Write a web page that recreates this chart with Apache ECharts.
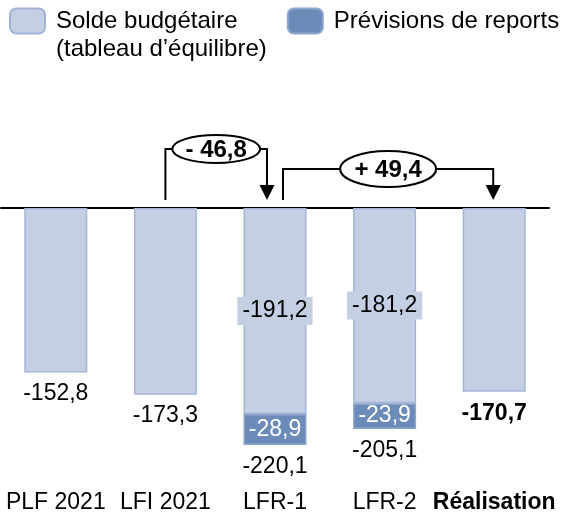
<!DOCTYPE html>
<html lang="fr">
<head>
<meta charset="UTF-8">
<title>Solde budgétaire 2021</title>
<script src="https://cdn.jsdelivr.net/npm/echarts@6/dist/echarts.min.js"></script>
<style>
    html, body { margin: 0; padding: 0; background: #fff; }
    #chart { width: 568px; height: 520px; }
</style>
</head>
<body>
<div id="chart"></div>
<script>
    // données (Md€)
    var categories = ['PLF 2021', 'LFI 2021', 'LFR-1', 'LFR-2', 'Réalisation'];
    var soldeBudgetaire = [-152.8, -173.3, -191.2, -181.2, -170.7];
    var previsionsReports = [null, null, -28.9, -23.9, null];
    var totaux = [-152.8, -173.3, -220.1, -205.1, -170.7];
    // écarts annotés : de la catégorie i vers la catégorie j
    var ecarts = [
        { de: 1, vers: 2, texte: '- 46,8' },
        { de: 2, vers: 4, texte: '+ 49,4' }
    ];
    // mise en forme des annotations (px)
    var ecartsLayout = [
        { dx0: 0, dx1: -8, h: 59, rx: 44, ry: 14 },
        { dx0: 8, dx1: -1, h: 39, rx: 48, ry: 18 }
    ];

    var FONT = 'Liberation Sans, Arial, sans-serif';
    var LIGHT = '#C5CFE3';
    var LIGHT_BORDER = '#A3B5D7';
    var DARK = '#6C8BB9';
    var DARK_BORDER = '#8EA5CC';
    var FS = 23;

    function fr(v) { return String(v).replace('.', ','); }

    var chart = echarts.init(document.getElementById('chart'));

    var option = {
        animation: false,
        textStyle: { fontFamily: FONT },
        grid: { left: 1, right: 19, top: 208, bottom: 32 },
        legend: {
            left: 9,
            top: -21,
            padding: 0,
            itemWidth: 35,
            itemHeight: 25,
            itemGap: 20,
            selectedMode: false,
            data: ['Solde budgétaire', 'Prévisions de reports'],
            formatter: function (name) {
                if (name === 'Solde budgétaire') {
                    return '\nSolde budgétaire\n(tableau d’équilibre)';
                }
                return name;
            },
            textStyle: { fontSize: 24, lineHeight: 28, color: '#000', fontFamily: FONT, padding: [0, 0, 0, 6] }
        },
        xAxis: [{
            type: 'category',
            data: categories,
            position: 'bottom',
            axisLine: { show: false, onZero: false },
            axisTick: { show: false },
            axisLabel: {
                interval: 0,
                margin: 3,
                fontSize: FS,
                color: '#000',
                fontFamily: FONT,
                formatter: function (v) {
                    return v === 'Réalisation' ? '{b|' + v + '}' : v;
                },
                rich: { b: { fontWeight: 'bold', fontSize: FS, color: '#000', fontFamily: FONT } }
            }
        }, {
            type: 'category',
            data: categories,
            position: 'top',
            axisLine: { show: true, onZero: false, lineStyle: { color: '#000', width: 2 } },
            axisTick: { show: false },
            axisLabel: { show: false }
        }],
        yAxis: {
            type: 'value',
            min: -260,
            max: 0,
            show: false
        },
        series: [{
            name: 'Solde budgétaire',
            type: 'bar',
            stack: 'total',
            barWidth: 63,
            itemStyle: { color: LIGHT, borderColor: LIGHT_BORDER, borderWidth: 1.5 },
            label: {
                show: false,
                position: 'inside',
                fontSize: FS,
                color: '#000',
                fontFamily: FONT,
                backgroundColor: LIGHT,
                padding: [3, 5, 2, 5],
                formatter: function (p) { return fr(p.value); }
            },
            data: soldeBudgetaire.map(function (v, i) {
                return { value: v, label: { show: previsionsReports[i] != null } };
            })
        }, {
            name: 'Prévisions de reports',
            type: 'bar',
            stack: 'total',
            barWidth: 63,
            itemStyle: { color: DARK, borderColor: DARK_BORDER, borderWidth: 1.5 },
            label: {
                show: true,
                position: 'inside',
                fontSize: FS,
                color: '#fff',
                fontFamily: FONT,
                formatter: function (p) { return fr(p.value); }
            },
            data: previsionsReports
        }, {
            name: 'Total',
            type: 'scatter',
            symbolSize: 0,
            silent: true,
            itemStyle: { color: '#000', opacity: 1 },
            label: {
                show: true,
                position: 'bottom',
                distance: 10,
                fontSize: FS,
                color: '#000',
                opacity: 1,
                fontFamily: FONT,
                formatter: function (p) { return fr(p.value); }
            },
            data: totaux.map(function (v, i) {
                return i === totaux.length - 1 ? { value: v, label: { fontWeight: 'bold' } } : v;
            })
        }]
    };
    chart.setOption(option);

    // flèches d'écart
    var yZero = chart.convertToPixel({ yAxisIndex: 0 }, 0);
    var elements = [];
    ecarts.forEach(function (e, k) {
        var L = ecartsLayout[k];
        var x0 = chart.convertToPixel({ xAxisIndex: 0 }, e.de) + L.dx0;
        var x1 = chart.convertToPixel({ xAxisIndex: 0 }, e.vers) + L.dx1;
        var yh = yZero - L.h;
        var mid = (x0 + x1) / 2;
        elements.push({
            type: 'polyline', z: 100,
            shape: { points: [[x0, yZero - 8], [x0, yh], [x1, yh], [x1, yZero - 22]] },
            style: { stroke: '#000', lineWidth: 2, fill: null }
        });
        elements.push({
            type: 'polygon', z: 100,
            shape: { points: [[x1 - 7.5, yZero - 23], [x1 + 7.5, yZero - 23], [x1, yZero - 8]] },
            style: { fill: '#000' }
        });
        elements.push({
            type: 'ellipse', z: 101,
            shape: { cx: mid, cy: yh, rx: L.rx, ry: L.ry },
            style: { fill: '#fff', stroke: '#000', lineWidth: 2 }
        });
        elements.push({
            type: 'text', z: 102,
            style: {
                text: e.texte, x: mid, y: yh + 1,
                align: 'center', verticalAlign: 'middle',
                fontSize: 24, fontWeight: 'bold', fontFamily: FONT, fill: '#000'
            }
        });
    });
    chart.setOption({ graphic: elements });
</script>
</body>
</html>
